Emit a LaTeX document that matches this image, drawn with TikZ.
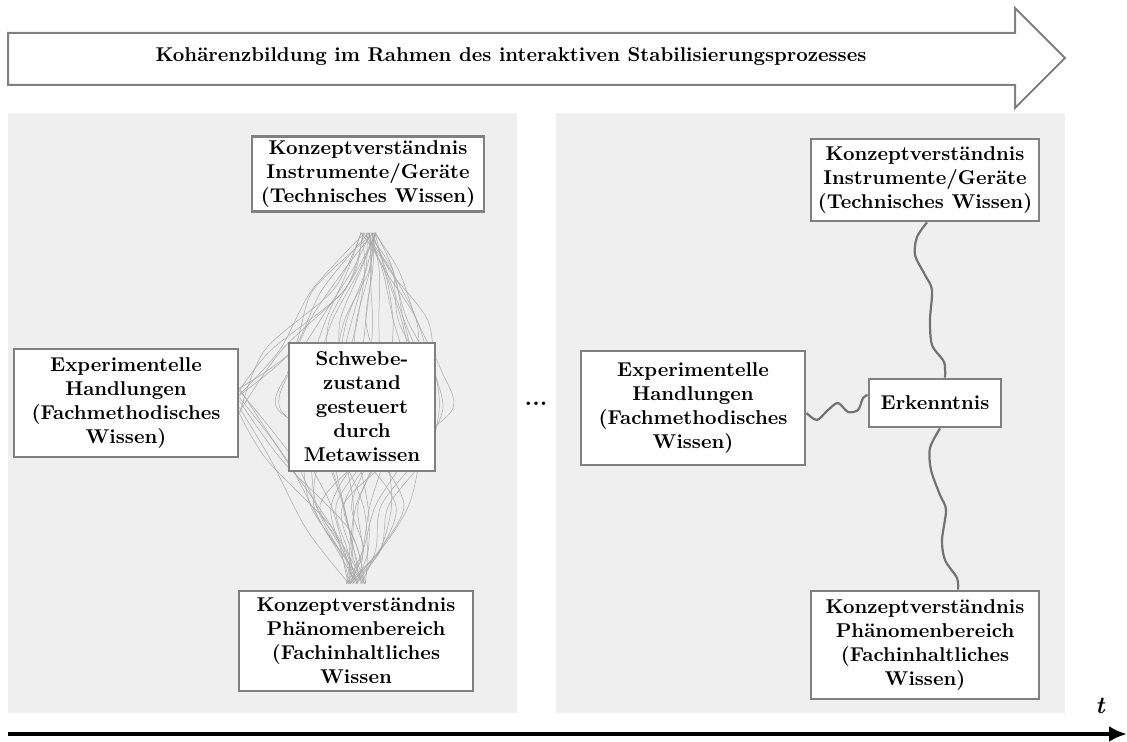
\documentclass[tikz,border=0pt]{standalone}
\usepackage{fontspec}
\usetikzlibrary{positioning, arrows.meta, calc, backgrounds}
\definecolor{boxgray}{RGB}{128,128,128}
\definecolor{panelbg}{RGB}{239,239,239}
\definecolor{strandgray}{RGB}{170,170,170}
\tikzset{
  kbox/.style={
    draw=boxgray, line width=1.4pt, fill=white,
    align=center, font=\bfseries, inner sep=2pt
  },
  panel/.style={fill=panelbg},
  strand/.style={draw=strandgray, line width=0.25pt},
  wiggle/.style={draw=boxgray!90!black, line width=1.1pt},
  timeline/.style={-{Latex[length=9pt,width=8pt]}, line width=2pt},
  banner/.style={draw=boxgray, line width=1pt, fill=white},
}

\begin{document}
\begin{tikzpicture}[x=0.5pt, y=-0.5pt]
  \useasboundingbox (0,0) rectangle (1127,742);

  % top banner arrow
  \draw[banner] (8,33) -- (1015,33) -- (1015,8) -- (1065,58)
        -- (1015,108) -- (1015,85) -- (8,85) -- cycle;
  \node[font=\bfseries] (title) at (511,57)
        {Kohärenzbildung im Rahmen des interaktiven Stabilisierungsprozesses};

  % left phase
  \node[kbox, minimum width=116pt, minimum height=35pt] (kl) at (368,174)
        {Konzeptverständnis\\Instrumente/Geräte\\(Technisches Wissen)};
  \node[kbox, minimum width=112pt, minimum height=54pt] (el) at (126,403)
        {Experimentelle\\Handlungen\\(Fachmethodisches\\Wissen)};
  \node[kbox, minimum width=73pt, minimum height=64pt] (sz) at (362,407)
        {Schwebe-\\zustand\\gesteuert\\durch\\Metawissen};
  \node[kbox, minimum width=117pt, minimum height=50pt] (pl) at (356,641)
        {Konzeptverständnis\\Phänomenbereich\\(Fachinhaltliches\\Wissen};

  \node[font=\large\bfseries] (dots) at (536,404) {...};

  % right phase
  \node[kbox, minimum width=114pt, minimum height=41pt] (kr) at (925,180)
        {Konzeptverständnis\\Instrumente/Geräte\\(Technisches Wissen)};
  \node[kbox, minimum width=112pt, minimum height=57pt] (er) at (693,408)
        {Experimentelle\\Handlungen\\(Fachmethodisches\\Wissen)};
  \node[kbox, minimum width=66pt, minimum height=24pt] (ek) at (935,403)
        {Erkenntnis};
  \node[kbox, minimum width=114pt, minimum height=54pt] (pr) at (925,645)
        {Konzeptverständnis\\Phänomenbereich\\(Fachinhaltliches\\Wissen)};

  \draw[wiggle] plot[smooth, tension=0.5] coordinates {($(kr.south)+(2,0)$)
        (917,237) (915,255) (925,275) (932,290) (930,320) (932,345) (944,362)
        ($(ek.north)+(10,0)$)};
  \draw[wiggle] plot[smooth, tension=0.5] coordinates {($(ek.south)+(5,0)$)
        (930,448) (931,470) (940,495) (946,510) (942,540) (945,560) (957,578)
        ($(pr.north)+(33,0)$)};
  \draw[wiggle] plot[smooth, tension=0.5] coordinates {($(er.east)+(0,5)$)
        (817,420) (828,410) (838,403) (848,412) (858,410) (863,398)
        ($(ek.west)+(0,-8)$)};

  % time axis
  \coordinate (t0) at (8,734);
  \coordinate (t1) at (1127,734);
  \draw[timeline] (t0) -- (t1);
  \node[font=\large\bfseries\itshape] (tlab) at (1100,706) {t};

  \begin{scope}[on background layer]
    \fill[panel] (8,113) rectangle (517,713);
    \fill[panel] (556,113) rectangle (1065,713);
    \pgfmathsetseed{17}
    \foreach \i in {1,...,26}{
      \pgfmathsetmacro\r{rand}
      \pgfmathsetmacro\q{rand}
      \pgfmathsetmacro\xa{8*rand}
      \pgfmathsetmacro\xb{370+25*\r+6*rand}
      \pgfmathsetmacro\xc{366+55*\r+8*rand}
      \pgfmathsetmacro\xd{362+80*\r+8*rand}
      \pgfmathsetmacro\xm{358+92*\r+8*rand}
      \pgfmathsetmacro\xf{360+80*(\r+\q)/2+8*rand}
      \pgfmathsetmacro\xg{360+55*\q+8*rand}
      \pgfmathsetmacro\xh{360+25*\q+6*rand}
      \pgfmathsetmacro\xe{10*rand}
      \draw[strand] plot[smooth] coordinates {($(kl.south)+(\xa,20)$)
            (\xb,270) (\xc,320) (\xd,370) (\xm,410) (\xf,455) (\xg,505)
            (\xh,550) ($(pl.north)+(\xe,-6)$)};
    }
    \foreach \i in {1,...,6}{
      \pgfmathsetmacro\ya{15*rand}
      \pgfmathsetmacro\xb{278+15*rand}
      \pgfmathsetmacro\xc{330+25*rand}
      \pgfmathsetmacro\xa{8*rand}
      \draw[strand] plot[smooth] coordinates {($(el.east)+(0,\ya)$)
            (\xb,350) (\xc,290) ($(kl.south)+(\xa,20)$)};
      \pgfmathsetmacro\ya{15*rand}
      \pgfmathsetmacro\xb{280+15*rand}
      \pgfmathsetmacro\xc{325+25*rand}
      \pgfmathsetmacro\xe{10*rand}
      \draw[strand] plot[smooth] coordinates {($(el.east)+(0,\ya)$)
            (\xb,460) (\xc,530) ($(pl.north)+(\xe,-6)$)};
    }
  \end{scope}
\end{tikzpicture}
\end{document}
